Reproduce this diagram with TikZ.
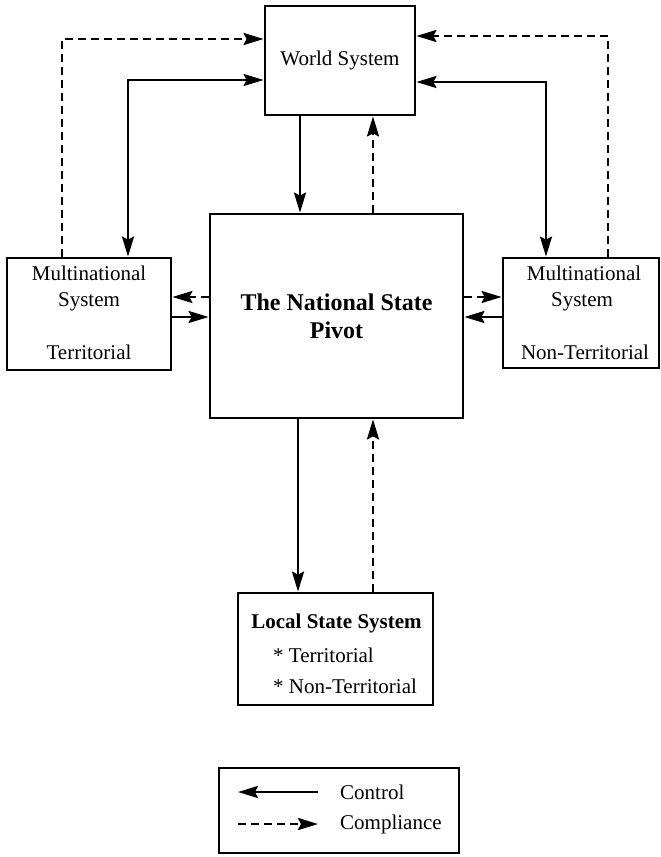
\documentclass[tikz,border=0pt]{standalone}
\usepackage{fontspec}
\setmainfont{Liberation Serif}
\usetikzlibrary{arrows.meta}
\begin{document}
\begin{tikzpicture}[x=1pt,y=-1pt,
  box/.style={draw, line width=2.8pt, inner sep=0pt},
  txt/.style={inner sep=0pt, font=\fontsize{21}{25}\selectfont},
  btxt/.style={inner sep=0pt, align=center, font=\fontsize{24}{28}\selectfont\bfseries},
  tip/.tip={Stealth[length=20pt,width=12pt,inset=3pt]},
  ctrl/.style={line width=2.6pt, -tip},
  ctrlboth/.style={line width=2.6pt, tip-tip},
  comp/.style={line width=2.6pt, dash pattern=on 8pt off 5pt, -tip}]
\useasboundingbox (0,0) rectangle (661,857);

% boxes
\node[box, txt, minimum width=150pt, minimum height=109pt] (world) at (340,60.5) {World System};
\node[box, btxt, minimum width=253pt, minimum height=204pt] (central) at (336.5,316) {The National State\\Pivot};
\node[box, minimum width=164pt, minimum height=112pt] (leftbox) at (89,314) {};
\node[box, minimum width=156pt, minimum height=110pt] (rightbox) at (581,313) {};
\node[box, minimum width=195pt, minimum height=112pt] (local) at (335.5,649) {};
\node[box, minimum width=240pt, minimum height=85pt] (legend) at (339,810.5) {};

% box texts
\node[txt] (lt1) at (89,273) {Multinational};
\node[txt] (lt2) at (89,302) {System};
\node[txt] (lt3) at (89,352) {Territorial};
\node[txt] (rt1) at (584,273) {Multinational};
\node[txt] (rt2) at (582,302) {System};
\node[txt] (rt3) at (585,352) {Non-Territorial};
\node[txt, font=\fontsize{21}{25}\selectfont\bfseries] (lst) at (336.5,623) {Local State System};
\node[txt, anchor=west] (ls1) at (273,655) {* Territorial};
\node[txt, anchor=west] (ls2) at (273,686) {* Non-Territorial};

% routing points
\coordinate (xa) at (300,0);
\coordinate (xb) at (373,0);
\coordinate (xc) at (298,0);
\coordinate (xd) at (373,0);
\coordinate (lo) at (62,39);
\coordinate (li) at (128,80);
\coordinate (ro) at (608,36);
\coordinate (ri) at (546,82);
\coordinate (ya) at (0,297);
\coordinate (yb) at (0,317);

% world system <-> national state
\draw[ctrl] (world.south -| xa) -- (central.north -| xa);
\draw[comp] (central.north -| xb) -- (world.south -| xb);

% outer loops
\draw[comp] (leftbox.north -| lo) -- (lo) -- (world.west |- lo);
\draw[ctrlboth] (world.west |- li) -- (li) -- (leftbox.north -| li);
\draw[comp] (rightbox.north -| ro) -- (ro) -- (world.east |- ro);
\draw[ctrlboth] (world.east |- ri) -- (ri) -- (rightbox.north -| ri);

% side links
\draw[comp] (central.west |- ya) -- (leftbox.east |- ya);
\draw[ctrl] (leftbox.east |- yb) -- (central.west |- yb);
\draw[comp] (central.east |- ya) -- (rightbox.west |- ya);
\draw[ctrl] (rightbox.west |- yb) -- (central.east |- yb);

% national state <-> local state
\draw[ctrl] (central.south -| xc) -- (local.north -| xc);
\draw[comp] (local.north -| xd) -- (central.south -| xd);

% legend
\coordinate (k1a) at (238,792);
\coordinate (k1b) at (318,792);
\coordinate (k2a) at (238,824);
\coordinate (k2b) at (318,824);
\draw[ctrl] (k1b) -- (k1a);
\draw[comp] (k2a) -- (k2b);
\node[txt, anchor=west] (kc) at (340,792) {Control};
\node[txt, anchor=west] (kp) at (340,824) {Compliance};
\end{tikzpicture}
\end{document}
